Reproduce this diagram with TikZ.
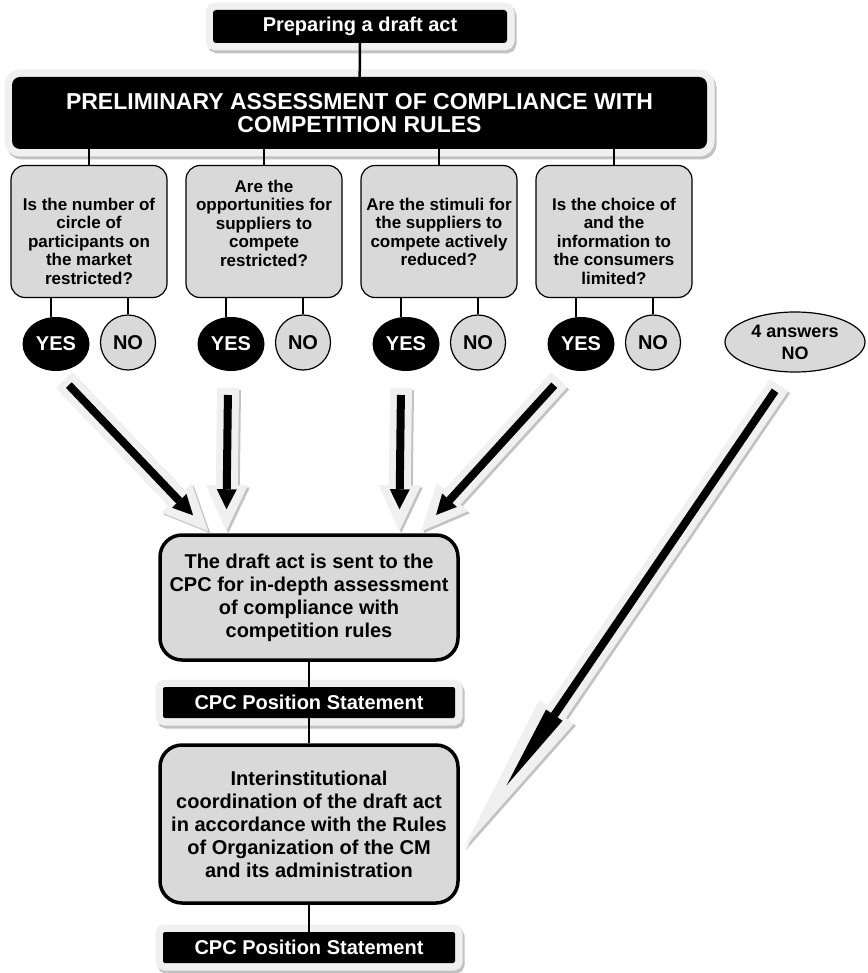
\documentclass[tikz,border=0pt]{standalone}
\usepackage{fontspec}
\setmainfont{Liberation Sans}
\usetikzlibrary{shapes.geometric,calc}

\definecolor{boxgray}{HTML}{D9D9D9}
\definecolor{framelight}{HTML}{F0F0F0}
\definecolor{frameshade}{HTML}{C2C2C2}

\tikzset{
  darkbox/.style={fill=black, text=white, align=center,
    preaction={draw=frameshade, line width=15pt, transform canvas={shift={(2pt,-3pt)}}},
    preaction={draw=framelight, line width=15pt}},
  askbox/.style={draw, line width=1.2pt, fill=boxgray, rounded corners=14pt,
    minimum width=156pt, minimum height=132pt},
  asktext/.style={align=center, font=\fontsize{17}{18.5}\selectfont\bfseries},
  stagebox/.style={draw, line width=3.5pt, fill=boxgray, rounded corners=22pt,
    align=center, minimum width=298pt, font=\fontsize{20}{23}\selectfont\bfseries},
  yesnode/.style={ellipse, fill=black, text=white, minimum width=67pt,
    minimum height=54pt, inner sep=0pt, font=\fontsize{20}{23}\selectfont\bfseries},
  nonode/.style={ellipse, draw, line width=1.2pt, fill=boxgray, minimum width=55pt,
    minimum height=55pt, inner sep=0pt, font=\fontsize{20}{23}\selectfont\bfseries},
  trunk/.style={line width=2.5pt},
  twig/.style={line width=1.3pt}
}

% fat arrow: tail, tip, outer head length, inner head length
\newcommand{\fatarrow}[4]{%
  \coordinate (fa-n) at ($(#2)!#3!(#1)$);
  \coordinate (fa-b) at ($(fa-n)!4pt!(#2)$);
  \coordinate (fa-p) at ($(fa-b)!#4!(#2)$);
  \coordinate (fa-t) at ($(#1)!7pt!(#2)$);
  \def\fapath{($(#1)!11pt!90:(#2)$) -- ($(fa-n)!11pt!90:(#2)$) -- ($(fa-n)!21pt!90:(#2)$) -- (#2)
    -- ($(fa-n)!21pt!-90:(#2)$) -- ($(fa-n)!11pt!-90:(#2)$) -- ($(#1)!11pt!-90:(#2)$) -- cycle}
  \fill[frameshade, transform canvas={shift={(2pt,-2pt)}}] \fapath;
  \fill[framelight] \fapath;
  \draw[line width=8pt] (fa-t) -- (fa-b);
  \fill ($(fa-b)!10pt!90:(#2)$) -- (fa-p) -- ($(fa-b)!10pt!-90:(#2)$) -- cycle;
}

\begin{document}
\begin{tikzpicture}[x=1pt,y=-1pt]
\useasboundingbox (0,0) rectangle (867,973);

% top of the chart
\node[darkbox, rounded corners=3pt, minimum width=294pt, minimum height=33pt,
  font=\fontsize{20}{23}\selectfont\bfseries] (draft) at (360,26.5) {Preparing a draft act};
\node[darkbox, rounded corners=8pt, minimum width=695pt, minimum height=72pt,
  font=\fontsize{23}{23}\selectfont\bfseries] (prelim) at (359.5,113)
  {PRELIMINARY ASSESSMENT OF COMPLIANCE WITH\\COMPETITION RULES};
\draw[trunk] (draft) -- (prelim);

% the four questions with their answers
\foreach \i/\x/\y/\txt in {
  1/89/241/{Is the number of\\circle of\\participants on\\the market\\restricted?},
  2/264/223/{Are the\\opportunities for\\suppliers to\\compete\\restricted?},
  3/439/232/{Are the stimuli for\\the suppliers to\\compete actively\\reduced?},
  4/614/241/{Is the choice of\\and the\\information to\\the consumers\\limited?}}{
  \node[askbox] (q\i) at (\x,231.5) {};
  \node[asktext] (qt\i) at (\x,\y) {\txt};
  \draw[trunk] (q\i.north) -- (q\i.north |- prelim.south);
  \node[yesnode] (yes\i) at (\x-33,344) {YES};
  \node[nonode] (no\i) at (\x+39,342.5) {NO};
  \draw[twig] ([xshift=-5pt]yes\i.north) -- ([xshift=-5pt]yes\i.north |- q\i.south);
  \draw[twig] (no\i) -- (no\i |- q\i.south);
}
\node[ellipse, draw, line width=1.2pt, fill=boxgray, minimum width=140pt, minimum height=60pt,
  inner sep=0pt, align=center,
  font=\fontsize{18}{22}\selectfont\bfseries] (allno) at (795,342) {4 answers\\NO};

% lower part
\node[stagebox, minimum height=125pt] (sendbox) at (309,597.5)
  {The draft act is sent to the\\CPC for in-depth assessment\\of compliance with\\competition rules};
\node[darkbox, rounded corners=2pt, minimum width=292pt, minimum height=31pt,
  font=\fontsize{20}{23}\selectfont\bfseries] (cpc1) at (309,702.5) {CPC Position Statement};
\node[stagebox, minimum height=158pt] (coordbox) at (309,824)
  {Interinstitutional\\coordination of the draft act\\in accordance with the Rules\\of Organization of the CM\\and its administration};
\node[darkbox, rounded corners=2pt, minimum width=292pt, minimum height=31pt,
  font=\fontsize{20}{23}\selectfont\bfseries] (cpc2) at (309,947.5) {CPC Position Statement};
\draw[trunk] (sendbox) -- (cpc1);
\draw[trunk] (cpc1) -- (coordbox);
\draw[trunk] (coordbox) -- (cpc2);

% big arrows
\coordinate (t1) at (64,380);
\coordinate (t2) at (228,388);
\coordinate (t3) at (401,388);
\coordinate (t4) at (559,380);
\coordinate (t5) at (779,385);
\coordinate (h1) at ([xshift=50pt,yshift=2pt]sendbox.north west);
\coordinate (h2) at ([xshift=68pt,yshift=2pt]sendbox.north west);
\coordinate (h3) at ([xshift=241pt,yshift=2pt]sendbox.north west);
\coordinate (h4) at ([xshift=263pt,yshift=2pt]sendbox.north west);
\coordinate (h5) at ([xshift=4pt,yshift=-105pt]coordbox.north east);
\fatarrow{t1}{h1}{46pt}{20pt}
\fatarrow{t2}{h2}{46pt}{20pt}
\fatarrow{t3}{h3}{46pt}{20pt}
\fatarrow{t4}{h4}{46pt}{20pt}
\fatarrow{t5}{h5}{165pt}{85pt}
\end{tikzpicture}
\end{document}
